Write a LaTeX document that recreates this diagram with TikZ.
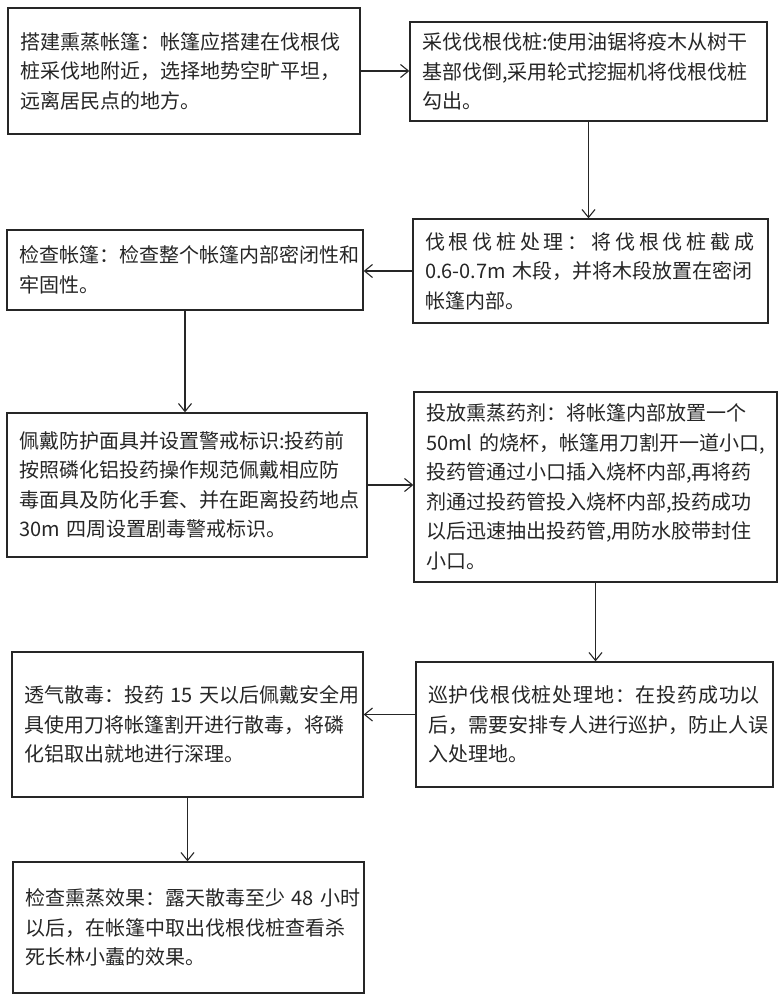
\documentclass[tikz,border=0pt]{standalone}
\usepackage{fontspec}
\newfontfamily\cjk{Noto Sans CJK SC}
\usetikzlibrary{arrows.meta}
\begin{document}
\begin{tikzpicture}[x=1pt,y=-1pt,
  box/.style={draw=black!85, line width=1.3pt, align=left, anchor=center,
    inner xsep=12pt, inner ysep=0pt, text=black!85,
    font=\cjk\fontsize{20}{29.5}\selectfont},
  arr/.style={draw=black!85, line width=1.1pt, -{Straight Barb[length=8pt,width=13pt,line width=1.1pt]}}]
\useasboundingbox[fill=white] (0,0) rectangle (783,1000);

\node[box, text width=328pt, minimum height=126pt] (b1) at (184,71)
  {搭建熏蒸帐篷：帐篷应搭建在伐根伐\\桩采伐地附近，选择地势空旷平坦，\\远离居民点的地方。};
\node[box, text width=333pt, minimum height=99pt] (b2) at (588.5,71.5)
  {采伐伐根伐桩:使用油锯将疫木从树干\\基部伐倒,采用轮式挖掘机将伐根伐桩\\勾出。};
\node[box, text width=332pt, minimum height=80pt] (b3) at (185,270)
  {检查帐篷：检查整个帐篷内部密闭性和\\牢固性。};
\node[box, text width=331pt, minimum height=104pt] (b4) at (590.5,271)
  {{\addfontfeature{LetterSpace=19}伐根伐桩处理：将伐根伐桩截成}\\0.6-0.7m~木段，并将木段放置在密闭\\帐篷内部。};
\node[box, text width=336pt, minimum height=144pt] (b5) at (187,485)
  {佩戴防护面具并设置警戒标识:投药前\\按照磷化铝投药操作规范佩戴相应防\\毒面具及防化手套、并在距离投药地点\\30m~四周设置剧毒警戒标识。};
\node[box, text width=339pt, minimum height=190pt] (b6) at (595.5,487)
  {投放熏蒸药剂：将帐篷内部放置一个\\50ml~的烧杯，帐篷用刀割开一道小口,\\投药管通过小口插入烧杯内部,再将药\\剂通过投药管投入烧杯内部,投药成功\\以后迅速抽出投药管,用防水胶带封住\\小口。};
\node[box, text width=327pt, minimum height=145pt] (b7) at (187.5,724.5)
  {透气散毒：投药~15~天以后佩戴安全用\\具使用刀将帐篷割开进行散毒，将磷\\化铝取出就地进行深理。};
\node[box, text width=333pt, minimum height=125pt] (b8) at (594.5,724.5)
  {{\addfontfeature{LetterSpace=4}巡护伐根伐桩处理地：在投药成功以}\\后，需要安排专人进行巡护，防止人误\\入处理地。};
\node[box, text width=327pt, minimum height=131pt] (b9) at (188.5,927.5)
  {检查熏蒸效果：露天散毒至少~48~小时\\以后，在帐篷中取出伐根伐桩查看杀\\死长林小蠹的效果。};

\draw[arr] (b1.east) -- (b1.east -| b2.west);
\draw[arr] (b2.south) -- (b2.south |- b4.north);
\draw[arr] (b4.west) -- (b4.west -| b3.east);
\draw[arr] (b3.south) -- (b3.south |- b5.north);
\draw[arr] (b5.east) -- (b5.east -| b6.west);
\draw[arr] (b6.south) -- (b6.south |- b8.north);
\draw[arr] ([yshift=10pt]b8.west) -- ([yshift=10pt]b8.west -| b7.east);
\draw[arr] (b7.south) -- (b7.south |- b9.north);
\end{tikzpicture}
\end{document}
